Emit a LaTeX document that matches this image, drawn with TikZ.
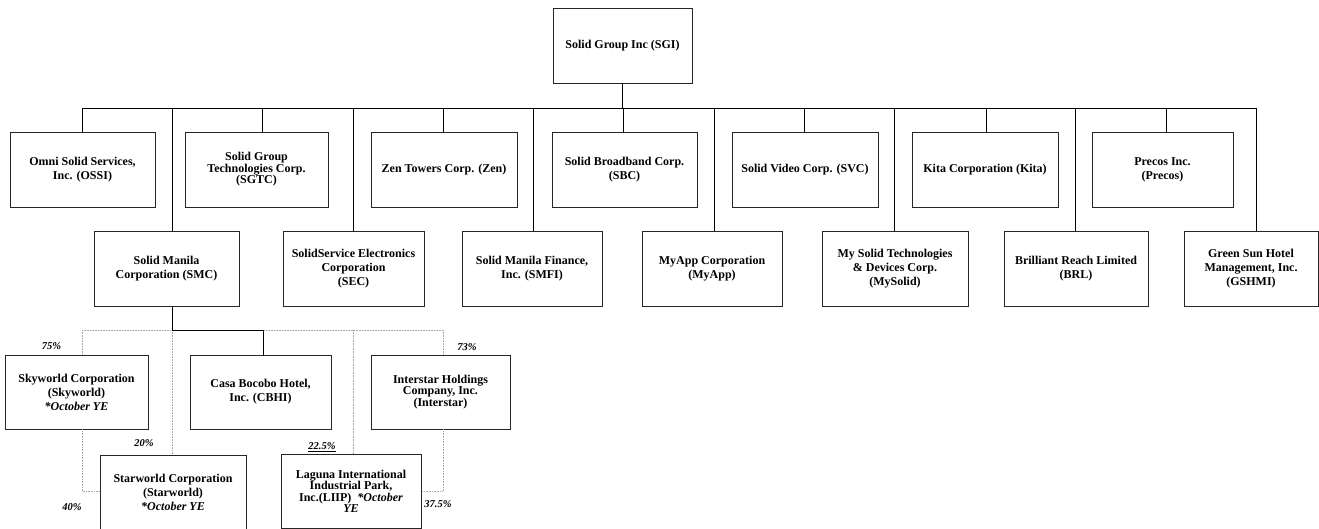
\documentclass[tikz,border=0pt]{standalone}
\usepackage{fontspec}
\setmainfont{Liberation Serif}
\usetikzlibrary{shadows}
\begin{document}
\begin{tikzpicture}[x=1pt,y=-1pt,
  box/.style={draw=black!85, line width=0.8pt, fill=white, minimum height=75pt, inner sep=1pt, align=center,
    font=\bfseries\fontsize{12}{14}\selectfont,
    drop shadow={shadow xshift=1pt,shadow yshift=-1pt,fill=black!30,opacity=1}},
  tight/.style={font=\bfseries\fontsize{12}{11.5}\selectfont},
  link/.style={draw=black, line width=0.9pt},
  share/.style={draw=black!35, line width=0.6pt, densely dotted},
  pct/.style={font=\bfseries\itshape\fontsize{10.5}{12}\selectfont, inner sep=1pt}
]
\useasboundingbox (0,0) rectangle (1319,528);

% boxes
\node[box, minimum width=139pt] (sgi) at (622.5,45.5) {Solid Group Inc (SGI)};

\node[box, minimum width=145pt] (ossi) at (82.5,169.5) {Omni Solid Services,\\Inc. (OSSI)};
\node[box, tight, minimum width=143pt] (sgtc) at (256.5,169.5) {Solid Group\\Technologies Corp.\\(SGTC)};
\node[box, minimum width=146pt] (zen) at (444,169.5) {Zen Towers Corp. (Zen)};
\node[box, minimum width=145pt] (sbc) at (624.5,169.5) {Solid Broadband Corp.\\(SBC)};
\node[box, minimum width=146pt] (svc) at (805,169.5) {Solid Video Corp. (SVC)};
\node[box, minimum width=146pt] (kita) at (985,169.5) {Kita Corporation (Kita)};
\node[box, minimum width=141pt] (precos) at (1162.5,169.5) {Precos Inc.\\(Precos)};

\node[box, minimum width=145pt] (smc) at (166.5,268.5) {Solid Manila\\Corporation (SMC)};
\node[box, minimum width=141pt] (sec) at (353.5,268.5) {SolidService Electronics\\Corporation\\(SEC)};
\node[box, minimum width=140pt] (smfi) at (532,268.5) {Solid Manila Finance,\\Inc. (SMFI)};
\node[box, minimum width=140pt] (myapp) at (712,268.5) {MyApp Corporation\\(MyApp)};
\node[box, minimum width=146pt] (mysolid) at (895,268.5) {My Solid Technologies\\\& Devices Corp.\\(MySolid)};
\node[box, minimum width=144pt] (brl) at (1076,268.5) {Brilliant Reach Limited\\(BRL)};
\node[box, minimum width=134pt] (gshmi) at (1251,268.5) {Green Sun Hotel\\Management, Inc.\\(GSHMI)};

\node[box, minimum width=143pt, minimum height=74pt] (sky) at (76.5,392) {Skyworld Corporation\\(Skyworld)\\\textit{*October YE}};
\node[box, minimum width=141pt, minimum height=74pt] (cbhi) at (260.5,392) {Casa Bocobo Hotel,\\Inc. (CBHI)};
\node[box, tight, minimum width=139pt, minimum height=74pt] (inter) at (440.5,392) {Interstar Holdings\\Company, Inc.\\(Interstar)};
\node[box, minimum width=146pt, minimum height=74pt] (star) at (173,492) {Starworld Corporation\\(Starworld)\\\textit{*October YE}};
\node[box, tight, minimum width=140pt, minimum height=74pt] (liip) at (351,491.5) {Laguna International\\Industrial Park,\\Inc.(LIIP)\ \ \textit{*October}\\\textit{YE}};

% top bus
\coordinate (busL) at (82,108);
\coordinate (busR) at (1256,108);
\draw[link] (busL) -- (busR);
\draw[link] (sgi.south) -- (sgi.south |- busL);
\foreach \x/\n in {82/ossi,262/sgtc,443/zen,623/sbc,804/svc,986/kita,1166/precos,
                   172/smc,353/sec,533/smfi,714/myapp,894/mysolid,1075/brl,1256/gshmi}{
  \coordinate (b\n) at (\x,108);
  \draw[link] (b\n) -- (b\n |- \n.north);
}

% ownership lines (dotted grey)
\coordinate (g1) at (82,330);
\coordinate (g2) at (172,330);
\coordinate (g3) at (353,330);
\coordinate (g4) at (443,330);
\draw[share] (g1) -- (g4);
\draw[share] (g1) -- (g1 |- sky.north);
\draw[share] (g2) -- (g2 |- star.north);
\draw[share] (g3) -- (g3 |- liip.north);
\draw[share] (g4) -- (g4 |- inter.north);
\coordinate (s1) at (82,491);
\draw[share] (g1 |- sky.south) -- (s1) -- (s1 -| star.west);
\coordinate (s2) at (443,491);
\draw[share] (g4 |- inter.south) -- (s2) -- (s2 -| liip.east);

% SMC -> CBHI
\coordinate (cbhiin) at (263,330);
\draw[link] (smc.south -| g2) -- (g2) -- (cbhiin) -- (cbhiin |- cbhi.north);

% percentages
\node[pct] (p75) at (51.5,346) {75\%};
\node[pct] (p20) at (144,443) {20\%};
\node[pct] (p40) at (72,507) {40\%};
\node[pct] (p225) at (322,447) {\underline{22.5\%}};
\node[pct, fill=white, inner xsep=9pt, inner ysep=3.5pt] (p73) at (467,347) {73\%};
\node[pct] (p375) at (438,504) {37.5\%};
\end{tikzpicture}
\end{document}
